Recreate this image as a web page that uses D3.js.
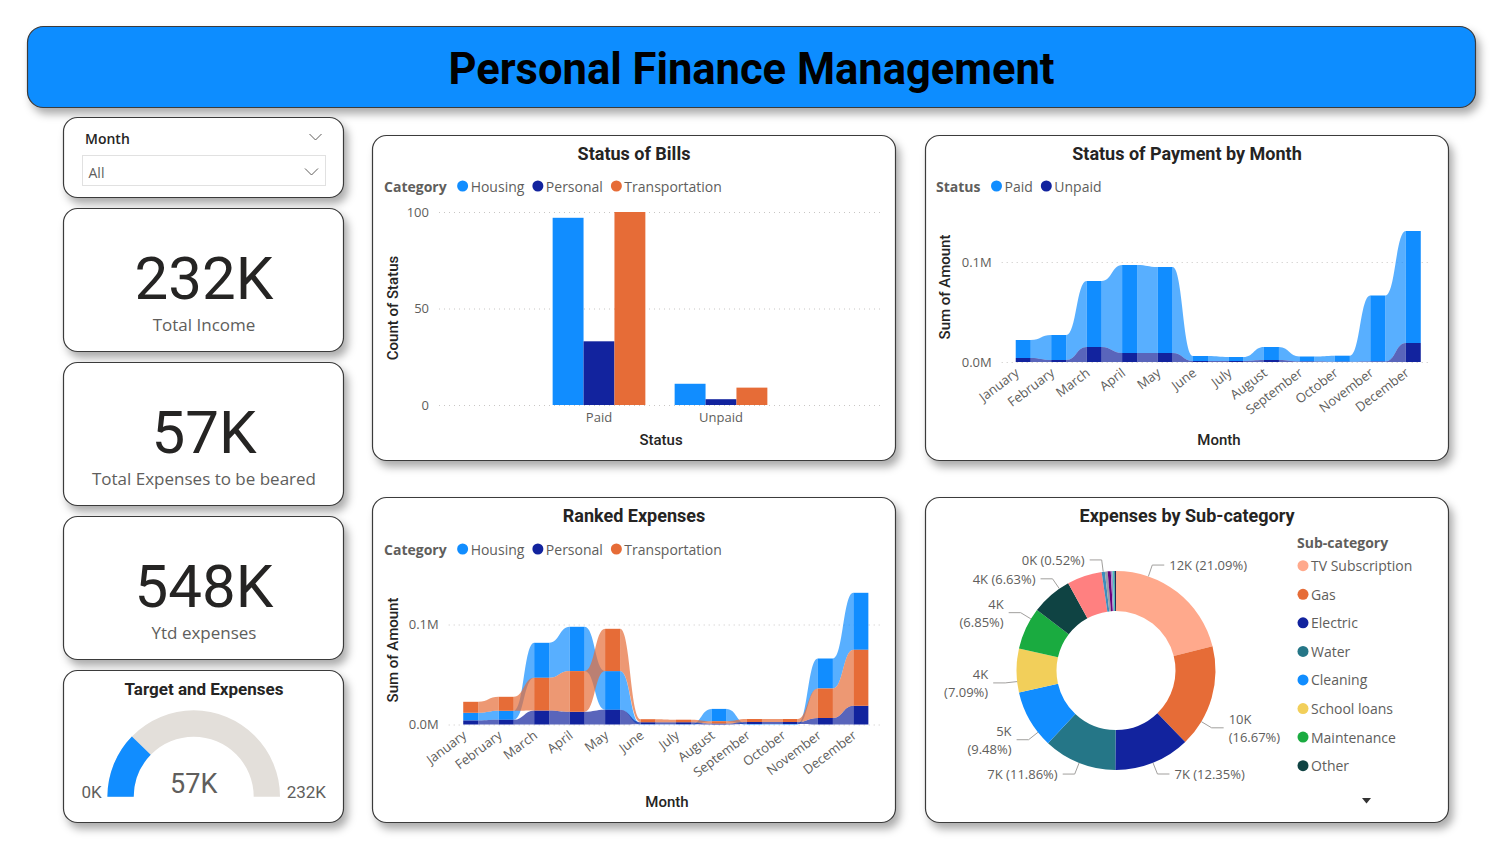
<!DOCTYPE html>
<html><head><meta charset="utf-8">
<script src="https://cdn.jsdelivr.net/npm/d3@7"></script>
<style>
html,body{margin:0;padding:0;background:#fff;overflow:hidden;}
</style></head><body>
<svg id="c" width="1503" height="867"></svg>
<script>
// ---------------- DATA ----------------
const months = ["January","February","March","April","May","June","July","August","September","October","November","December"];

const billStatus = ["Paid","Unpaid"];
const billCategories = ["Housing","Personal","Transportation"];
const billHousing = [97, 11];
const billPersonal = [33, 3];
const billTransportation = [100, 9];
const billTicks = [0, 50, 100];

const paymentStatus = ["Paid","Unpaid"];
const paidAmount   = [18000, 25000, 66000, 88000, 86000, 5000, 4000, 13000, 5000, 6000, 66000, 112000];
const unpaidAmount = [4000, 2000, 15000, 9000, 9000, 1000, 1000, 2000, 500, 300, 500, 19000];

const expenseCategories = ["Housing","Personal","Transportation"];
const housingAmount        = [7700, 9000, 35000, 44300, 38700, 300, 300, 12300, 500, 500, 30000, 57000];
const personalAmount       = [4000, 4700, 14000, 12700, 14700, 2000, 2000, 1000, 2000, 2000, 6500, 18700];
const transportationAmount = [11000, 14000, 32700, 40700, 42300, 3000, 2500, 2300, 3000, 3000, 29500, 56000];
const amountTicks = [0, 100000];

const subCategories = ["TV Subscription","Gas","Electric","Water","Cleaning","School loans","Maintenance","Other","Insurance","Internet","Phone","Gym","Parking","Groceries","Misc"];
const subCategoryAmount = [12021, 9502, 7040, 6760, 5404, 4041, 3905, 3779, 3232, 296, 257, 285, 171, 171, 136];

const kpiValues = [232000, 57000, 548000];
const kpiLabels = ["Total Income", "Total Expenses to be beared", "Ytd expenses"];
const gaugeTitle = "Target and Expenses";
const gaugeValue = 57000;
const gaugeTarget = 232000;
const slicerField = "Month";
const slicerValue = "All";

// ---------------- STYLE ----------------
const DIN = "Roboto, 'DejaVu Sans', sans-serif";
const SEGOE = "'Segoe UI', 'Open Sans', sans-serif";
const GREY = "#605E5C";
const DARK = "#252423";
const catColor = {Housing:"#118DFF", Personal:"#12239E", Transportation:"#E66C37"};
const statusColor = {Paid:"#118DFF", Unpaid:"#12239E"};
const subColors = ["#FFA98C","#E66C37","#12239E","#257687","#118DFF","#F2CF5A","#1AAB40","#0F4343","#FF8080","#3C8DBC","#9AA0A8","#6B007B","#9E8FC9","#4AC5BB","#1E2A5A"];
const fmtK = v => d3.format(".0f")(v/1000) + "K";
const fmtM = v => d3.format(".1f")(v/1e6) + "M";

const svg = d3.select("#c");
const defs = svg.append("defs");
const flt = defs.append("filter").attr("id","sh").attr("x","-10%").attr("y","-10%").attr("width","125%").attr("height","140%");
flt.append("feDropShadow").attr("dx",4).attr("dy",6).attr("stdDeviation",4).attr("flood-color","#000").attr("flood-opacity",0.33);

function card(x,y,w,h,fill,rx){
  svg.append("rect").attr("x",x).attr("y",y).attr("width",w).attr("height",h)
    .attr("rx",rx||14).attr("fill",fill||"#fff").attr("stroke","#3a3a3a").attr("stroke-width",1.2)
    .attr("filter","url(#sh)");
}
function txt(g,x,y,s,o){
  o=o||{};
  return g.append("text").attr("x",x).attr("y",y).text(s)
    .attr("font-family",o.ff||SEGOE).attr("font-size",o.fs||13).attr("font-weight",o.fw||400)
    .attr("fill",o.fill||GREY).attr("text-anchor",o.anchor||"start")
    .attr("dominant-baseline",o.db||"central");
}

// ---------------- HEADER ----------------
card(27.5,26.5,1448,81,"#118DFF",16);
txt(svg,751.5,69,"Personal Finance Management",{ff:DIN,fs:43.5,fw:700,fill:"#000",anchor:"middle"});

// ---------------- SLICER ----------------
card(63.5,117.5,280,80);
txt(svg,85,138.5,slicerField,{fs:14,fw:600,fill:DARK});
svg.append("path").attr("d","M309.5,134 L315.5,140 L321.5,134").attr("fill","none").attr("stroke",GREY).attr("stroke-width",1);
svg.append("rect").attr("x",82.5).attr("y",155.5).attr("width",243).attr("height",30).attr("fill","#fff").attr("stroke","#E1E1E1");
txt(svg,88.5,172.5,slicerValue,{fs:14,fill:GREY});
svg.append("path").attr("d","M305,168.5 L311.5,175 L318,168.5").attr("fill","none").attr("stroke",GREY).attr("stroke-width",1);

// ---------------- KPI CARDS ----------------
[208.5, 362.5, 516.5].forEach((top,i)=>{
  card(63.5,top,280,143);
  txt(svg,204,top+90,fmtK(kpiValues[i]),{ff:DIN,fs:60,fill:DARK,anchor:"middle",db:"alphabetic"});
  txt(svg,204,top+122,kpiLabels[i],{fs:17,fill:GREY,anchor:"middle",db:"alphabetic"});
});

// ---------------- GAUGE ----------------
card(63.5,670.5,280,152);
txt(svg,204,688.5,gaugeTitle,{ff:DIN,fs:17,fw:700,fill:DARK,anchor:"middle"});
(function(){
  const g = svg.append("g").attr("transform","translate(193.7,796.7)");
  const ang = d3.scaleLinear().domain([0,gaugeTarget]).range([-Math.PI/2, Math.PI/2]);
  const arc = d3.arc().innerRadius(60).outerRadius(86.3);
  g.append("path").attr("d",arc({startAngle:ang(0),endAngle:ang(gaugeTarget)})).attr("fill","#E3DFDA");
  g.append("path").attr("d",arc({startAngle:ang(0),endAngle:ang(gaugeValue)})).attr("fill","#118DFF");
  txt(g,0,-13,fmtK(gaugeValue),{ff:DIN,fs:27,fill:GREY,anchor:"middle"});
  txt(g,-92,-5,fmtK(0),{ff:DIN,fs:17,fill:GREY,anchor:"end"});
  txt(g,93,-5,fmtK(gaugeTarget),{ff:DIN,fs:17,fill:GREY,anchor:"start"});
})();

// ---------------- LEGEND HELPER ----------------
function legend(g,x,y,title,items){
  const t = txt(g,x,y,title,{fs:14,fw:700,fill:GREY});
  let cx = x + t.node().getComputedTextLength() + 16;
  items.forEach(it=>{
    g.append("circle").attr("cx",cx).attr("cy",y).attr("r",5.5).attr("fill",it.color);
    const tt = txt(g,cx+8,y,it.name,{fs:14,fill:GREY});
    cx = cx + 8 + tt.node().getComputedTextLength() + 13.5;
  });
}
function styleYAxis(sel){
  sel.select(".domain").remove();
  sel.selectAll("line").attr("stroke","#C8C6C4").attr("stroke-dasharray","1,4");
  sel.selectAll("text").attr("font-family",SEGOE).attr("font-size",13).attr("fill",GREY);
}

// ---------------- STATUS OF BILLS ----------------
card(372.5,135.5,523,325);
(function(){
  const g = svg.append("g");
  txt(g,634,153.5,"Status of Bills",{ff:DIN,fs:18,fw:700,fill:DARK,anchor:"middle"});
  legend(g,384,186,"Category",billCategories.map(c=>({name:c,color:catColor[c]})));
  const y = d3.scaleLinear().domain([0,100]).range([405,212]);
  const gy = g.append("g").attr("transform","translate(439,0)")
    .call(d3.axisLeft(y).tickValues(billTicks).tickSize(-443).tickPadding(10).tickFormat(d3.format("d")));
  styleYAxis(gy);
  const x0 = d3.scaleBand().domain(billStatus).range([538,782]).paddingInner(0.24).paddingOuter(0.12);
  const x1 = d3.scaleBand().domain(billCategories).range([0,x0.bandwidth()]);
  const series = {Housing:billHousing, Personal:billPersonal, Transportation:billTransportation};
  billStatus.forEach((st,i)=>{
    billCategories.forEach(cat=>{
      const v = series[cat][i];
      g.append("rect").attr("x",x0(st)+x1(cat)).attr("y",y(v)).attr("width",x1.bandwidth())
        .attr("height",y(0)-y(v)).attr("fill",catColor[cat]);
    });
  });
  const gx = g.append("g").attr("transform","translate(0,405)")
    .call(d3.axisBottom(x0).tickSize(0).tickPadding(8));
  gx.select(".domain").remove();
  gx.selectAll("text").attr("font-family",SEGOE).attr("font-size",13).attr("fill",GREY);
  txt(g,661,440,"Status",{ff:DIN,fs:15,fw:500,fill:DARK,anchor:"middle"});
  txt(g,0,0,"Count of Status",{ff:DIN,fs:15,fw:500,fill:DARK,anchor:"middle"}).attr("transform","translate(393,308) rotate(-90)");
})();

// ---------------- RIBBON CHART ----------------
function ribbon(g,cfg){
  const x = d3.scaleBand().domain(months).range(cfg.xRange).paddingInner(0.577).paddingOuter(0.2885);
  const y = d3.scaleLinear().domain([0,100000]).range(cfg.yRange);
  const gy = g.append("g").attr("transform",`translate(${cfg.gridX[0]},0)`)
    .call(d3.axisLeft(y).tickValues(amountTicks).tickSize(-(cfg.gridX[1]-cfg.gridX[0])).tickPadding(10).tickFormat(fmtM));
  styleYAxis(gy);
  const stacks = months.map((m,i)=>{
    const items = cfg.series.map(s=>({s, v:s.values[i]})).sort((a,b)=>a.v-b.v);
    let acc=0; const o={};
    items.forEach(it=>{ o[it.s.name]=[acc,acc+it.v]; acc+=it.v; });
    return o;
  });
  cfg.series.forEach(s=>{
    for(let i=0;i<months.length-1;i++){
      const a=stacks[i][s.name], b=stacks[i+1][s.name];
      const xa = x(months[i])+x.bandwidth(), xb = x(months[i+1]), xm=(xa+xb)/2;
      const p = d3.path();
      p.moveTo(xa,y(a[1]));
      p.bezierCurveTo(xm,y(a[1]),xm,y(b[1]),xb,y(b[1]));
      p.lineTo(xb,y(b[0]));
      p.bezierCurveTo(xm,y(b[0]),xm,y(a[0]),xa,y(a[0]));
      p.closePath();
      g.append("path").attr("d",p.toString()).attr("fill",s.color).attr("fill-opacity",0.7);
    }
  });
  cfg.series.forEach(s=>{
    months.forEach((m,i)=>{
      const r = stacks[i][s.name];
      g.append("rect").attr("x",x(m)).attr("width",x.bandwidth())
        .attr("y",y(r[1])).attr("height",Math.max(0,y(r[0])-y(r[1]))).attr("fill",s.color);
    });
  });
  const gx = g.append("g").attr("transform",`translate(0,${cfg.yRange[0]})`)
    .call(d3.axisBottom(x).tickSize(0));
  gx.select(".domain").remove();
  gx.selectAll("text").attr("font-family",SEGOE).attr("font-size",13).attr("fill",GREY)
    .attr("x",0).attr("y",0).attr("dy","0.35em").attr("text-anchor","end")
    .attr("transform","translate(-6,9) rotate(-37)");
}

// ---------------- STATUS OF PAYMENT ----------------
card(925.5,135.5,523,325);
(function(){
  const g = svg.append("g");
  txt(g,1187,153.5,"Status of Payment by Month",{ff:DIN,fs:18,fw:700,fill:DARK,anchor:"middle"});
  legend(g,936,186,"Status",paymentStatus.map(s=>({name:s,color:statusColor[s]})));
  ribbon(g,{xRange:[1005.5,1431],yRange:[362,262],gridX:[1001.7,1431.7],
    series:[{name:"Paid",values:paidAmount,color:statusColor.Paid},{name:"Unpaid",values:unpaidAmount,color:statusColor.Unpaid}]});
  txt(g,1219,440,"Month",{ff:DIN,fs:15,fw:500,fill:DARK,anchor:"middle"});
  txt(g,0,0,"Sum of Amount",{ff:DIN,fs:15,fw:500,fill:DARK,anchor:"middle"}).attr("transform","translate(945,287) rotate(-90)");
})();

// ---------------- RANKED EXPENSES ----------------
card(372.5,497.5,523,325);
(function(){
  const g = svg.append("g");
  txt(g,634,515.5,"Ranked Expenses",{ff:DIN,fs:18,fw:700,fill:DARK,anchor:"middle"});
  legend(g,384,549,"Category",expenseCategories.map(c=>({name:c,color:catColor[c]})));
  ribbon(g,{xRange:[453,878.6],yRange:[724.5,624.5],gridX:[448.7,880.3],
    series:[{name:"Housing",values:housingAmount,color:catColor.Housing},
            {name:"Personal",values:personalAmount,color:catColor.Personal},
            {name:"Transportation",values:transportationAmount,color:catColor.Transportation}]});
  txt(g,667,802,"Month",{ff:DIN,fs:15,fw:500,fill:DARK,anchor:"middle"});
  txt(g,0,0,"Sum of Amount",{ff:DIN,fs:15,fw:500,fill:DARK,anchor:"middle"}).attr("transform","translate(393,650) rotate(-90)");
})();

// ---------------- DONUT ----------------
card(925.5,497.5,523,325);
(function(){
  const g = svg.append("g");
  txt(g,1187,515.5,"Expenses by Sub-category",{ff:DIN,fs:18,fw:700,fill:DARK,anchor:"middle"});
  const cx=1116, cy=670.5, R=99.5, r=59.5;
  const pie = d3.pie().sort(null).value(d=>d);
  const arcs = pie(subCategoryAmount);
  const total = d3.sum(subCategoryAmount);
  const arc = d3.arc().innerRadius(r).outerRadius(R);
  const dg = g.append("g").attr("transform",`translate(${cx},${cy})`);
  dg.selectAll("path.s").data(arcs).enter().append("path").attr("class","s")
    .attr("d",arc).attr("fill",(d,i)=>subColors[i]);
  const lg = g.append("g");
  const placed = [];
  arcs.forEach((a,i)=>{
    const mid=(a.startAngle+a.endAngle)/2, span=a.endAngle-a.startAngle;
    let ang = mid;
    if (Math.abs(Math.cos(mid))<0.8){
      const h = mid<Math.PI ? Math.PI/2 : 3*Math.PI/2;
      ang = mid + (mid<h?-1:1)*span*0.25;
    }
    const sn=Math.sin(ang), cs=Math.cos(ang);
    const p0=[cx+R*sn, cy-R*cs], p1=[cx+(R+12)*sn, cy-(R+12)*cs];
    const side = sn>=0?1:-1;
    const p2=[p1[0]+side*12, p1[1]];
    const wrap = Math.abs(Math.cos(mid))<=0.5;
    const v = subCategoryAmount[i];
    const l1 = fmtK(v), l2 = "(" + d3.format(".2f")(v/total*100) + "%)";
    const tg = lg.append("g");
    const tx = p2[0]+side*5, an = side>0?"start":"end";
    if (wrap){
      txt(tg,tx,p1[1]-9,l1,{fs:13,fill:GREY,anchor:an});
      txt(tg,tx,p1[1]+9,l2,{fs:13,fill:GREY,anchor:an});
    } else {
      txt(tg,tx,p1[1],l1+" "+l2,{fs:13,fill:GREY,anchor:an});
    }
    const bb = tg.node().getBBox();
    const box = {x0:bb.x+1,x1:bb.x+bb.width-1,y0:bb.y+1,y1:bb.y+bb.height-1};
    const hit = placed.some(b=>!(box.x1<b.x0||box.x0>b.x1||box.y1<b.y0||box.y0>b.y1));
    if (hit){ tg.remove(); return; }
    placed.push(box);
    lg.append("polyline").attr("points",[p0,p1,p2].map(p=>p.join(",")).join(" "))
      .attr("fill","none").attr("stroke","#A19F9D").attr("stroke-width",1);
  });
  // legend
  txt(g,1297,542,"Sub-category",{fs:14,fw:700,fill:GREY});
  subCategories.slice(0,8).forEach((s,i)=>{
    const yy = 565.7 + i*28.57;
    g.append("circle").attr("cx",1303).attr("cy",yy).attr("r",5.5).attr("fill",subColors[i]);
    txt(g,1311,yy,s,{fs:14,fill:GREY});
  });
  g.append("path").attr("d","M1362,798 L1371,798 L1366.5,803.5 Z").attr("fill","#333");
})();
</script>
</body></html>
